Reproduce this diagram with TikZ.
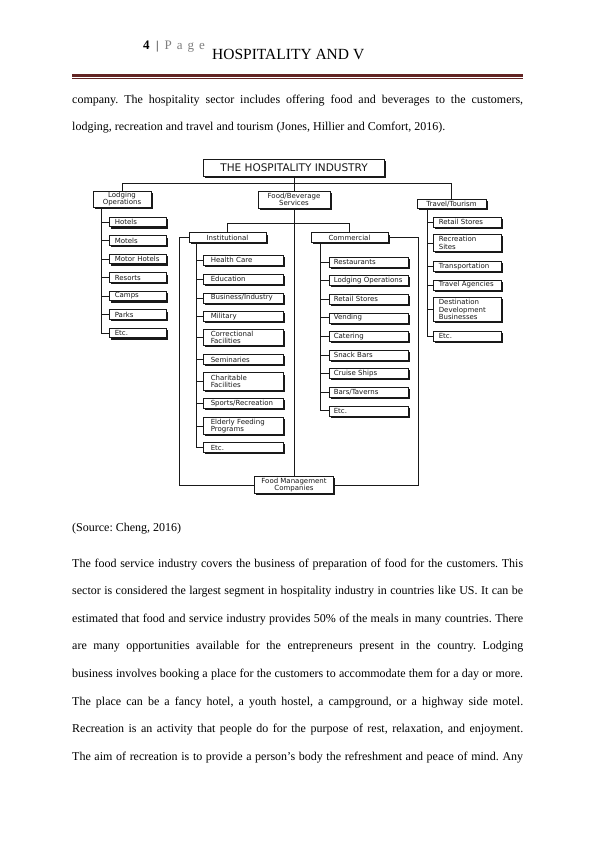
\documentclass[tikz,border=0pt]{standalone}
\usepackage{fontspec}
\setmainfont{Liberation Serif}
\newfontfamily\chartfont{DejaVu Sans}
\usepackage{tikz}
\usetikzlibrary{calc, shadows}

\definecolor{rulered}{HTML}{622423}
\definecolor{pagegray}{HTML}{7F7F7F}

\frenchspacing

\tikzset{
    bodyline/.style={anchor=base west, inner sep=0pt, font=\fontsize{12}{13.8}\selectfont},
    chartbox/.style={draw=black!90, fill=white, line width=0.6pt, inner sep=0pt, align=center,
        text=black!90, font=\chartfont\fontsize{7}{7.3}\selectfont,
        drop shadow={shadow xshift=1.8pt, shadow yshift=-1.8pt, fill=black!90, opacity=1}},
    leafbox/.style={chartbox, anchor=west, align=left, minimum height=10pt},
    lodgleaf/.style={leafbox, inner xsep=5.5pt, text width=46pt, minimum height=9.5pt},
    instleaf/.style={leafbox, inner xsep=7.5pt, text width=65pt},
    commleaf/.style={leafbox, inner xsep=4.5pt, text width=70pt},
    travleaf/.style={leafbox, inner xsep=5.5pt, text width=57pt},
    link/.style={draw=black!90, line width=0.7pt},
}

\begin{document}
\begin{tikzpicture}[x=1pt, y=-1pt]
        \useasboundingbox (0,0) rectangle (596,842);
        \fill[white] (0,0) rectangle (596,842);

        % running head
        \node[anchor=base west, inner sep=0pt, font=\bfseries\fontsize{13}{14}\selectfont] (pagenum) at (143,50) {4};
        \node[anchor=base west, inner sep=0pt, font=\fontsize{12}{14}\selectfont] (pagebar) at (156,50) {|};
        \node[anchor=base west, inner sep=0pt, text=pagegray, font=\fontsize{13}{14}\selectfont] (pageword) at (164.5,50) {P\kern5pt a\kern5pt g\kern5pt e};
        \begin{scope}
            \clip (205,30) rectangle (364,70);
            \node[anchor=base west, inner sep=0pt, font=\fontsize{15.5}{17}\selectfont] (runhead) at (212,60) {HOSPITALITY AND V};
        \end{scope}
        \draw[rulered, line width=2.7pt] (72,75.3) -- (523,75.3);
        \draw[rulered, line width=0.9pt] (72,78.4) -- (523,78.4);

        % text above the chart
        \node[bodyline] (intro1) at (72,103.5) {\makebox[451pt][s]{company. The hospitality sector includes offering food and beverages to the customers,}};
        \node[bodyline] (intro2) at (72,130.5) {lodging, recreation and travel and tourism (Jones, Hillier and Comfort, 2016).};

        % the chart
        \node[chartbox, minimum width=181pt, minimum height=17pt, font=\chartfont\fontsize{10.5}{12}\selectfont] (title) at (294,167.5) {THE HOSPITALITY INDUSTRY};
        \node[chartbox, minimum width=58pt, minimum height=16pt] (lodging) at (122,199) {Lodging\\Operations};
        \node[chartbox, minimum width=72pt, minimum height=17pt] (foodbev) at (294,199.5) {Food/Beverage\\Services};
        \node[chartbox, minimum width=69pt, minimum height=9pt] (travel) at (451.5,204) {Travel/Tourism};
        \node[chartbox, minimum width=77pt, minimum height=9.5pt] (inst) at (227.5,237.5) {Institutional};
        \node[chartbox, minimum width=77pt, minimum height=9.5pt] (comm) at (349.5,237.5) {Commercial};
        \node[chartbox, minimum width=79pt, minimum height=17pt] (foodmgmt) at (294,485) {Food Management\\Companies};

        \coordinate (topbus) at (0,183);
        \coordinate (innerbus) at (0,223);
        \coordinate (instloop) at (179,0);
        \coordinate (commloop) at (418,0);
        \coordinate (lodgspine) at (101,0);
        \coordinate (instspine) at (196,0);
        \coordinate (commspine) at (320,0);
        \coordinate (travspine) at (427,0);

        \draw[link] (title.south) -- (foodbev.north);
        \draw[link] (lodging.north) -- (lodging.north |- topbus) -| (travel.north);
        \draw[link] (foodbev.south) -- (foodmgmt.north);
        \draw[link] (inst.north) -- (inst.north |- innerbus) -| (comm.north);
        \draw[link] (inst.west) -- (inst.west -| instloop) |- (foodmgmt.west);
        \draw[link] (comm.east) -- (comm.east -| commloop) |- (foodmgmt.east);

        \foreach \txt [count=\i] in {Hotels, Motels, Motor Hotels, Resorts, Camps, Parks, Etc.} {
            \pgfmathsetmacro\y{222 + 18.5*(\i-1)}
            \node[lodgleaf] (lodg\i) at (109,\y) {\txt};
            \draw[link] (lodg\i.west -| lodgspine) -- (lodg\i.west);
        }
        \draw[link] (lodging.south -| lodgspine) -- (lodg7.west -| lodgspine);

        \foreach \y/\h/\txt [count=\i] in {260/10/Health Care, 279/10/Education, 298/10/{Business/Industry}, 316.5/10/Military,
                337.5/16/{Correctional\\Facilities}, 359.5/10/Seminaries, 381.5/17.5/{Charitable\\Facilities},
                403.5/10/{Sports/Recreation}, 426/17/{Elderly Feeding\\Programs}, 447.5/10/Etc.} {
            \node[instleaf, minimum height=\h pt] (inst\i) at (203,\y) {\txt};
            \draw[link] (inst\i.west -| instspine) -- (inst\i.west);
        }
        \draw[link] (inst.south -| instspine) -- (inst10.west -| instspine);

        \foreach \txt [count=\i] in {Restaurants, Lodging Operations, Retail Stores, Vending, Catering,
                Snack Bars, Cruise Ships, {Bars/Taverns}, Etc.} {
            \pgfmathsetmacro\y{262 + 18.6*(\i-1)}
            \node[commleaf] (comm\i) at (329,\y) {\txt};
            \draw[link] (comm\i.west -| commspine) -- (comm\i.west);
        }
        \draw[link] (comm.south -| commspine) -- (comm9.west -| commspine);

        \foreach \y/\h/\txt [count=\i] in {222/10/Retail Stores, 243/17/{Recreation\\Sites}, 266.5/10/Transportation,
                285/10/Travel Agencies, 309.5/24/{Destination\\Development\\Businesses}, 336/10/Etc.} {
            \node[travleaf, minimum height=\h pt] (trav\i) at (433,\y) {\txt};
            \draw[link] (trav\i.west -| travspine) -- (trav\i.west);
        }
        \draw[link] (travel.south -| travspine) -- (trav6.west -| travspine);

        % text below the chart
        \node[bodyline] (source) at (72,531) {(Source: Cheng, 2016)};
        \foreach \txt [count=\i] in {
                {The food service industry covers the business of preparation of food for the customers. This},
                {sector is considered the largest segment in hospitality industry in countries like US. It can be},
                {estimated that food and service industry provides 50\% of the meals in many countries. There},
                {are many opportunities available for the entrepreneurs present in the country. Lodging},
                {business involves booking a place for the customers to accommodate them for a day or more.},
                {The place can be a fancy hotel, a youth hostel, a campground, or a highway side motel.},
                {Recreation is an activity that people do for the purpose of rest, relaxation, and enjoyment.},
                {The aim of recreation is to provide a person’s body the refreshment and peace of mind. Any}} {
            \pgfmathsetmacro\y{567 + 27.6*(\i-1)}
            \node[bodyline] (para\i) at (72,\y) {\makebox[451pt][s]{\txt}};
        }
    \end{tikzpicture}
\end{document}
